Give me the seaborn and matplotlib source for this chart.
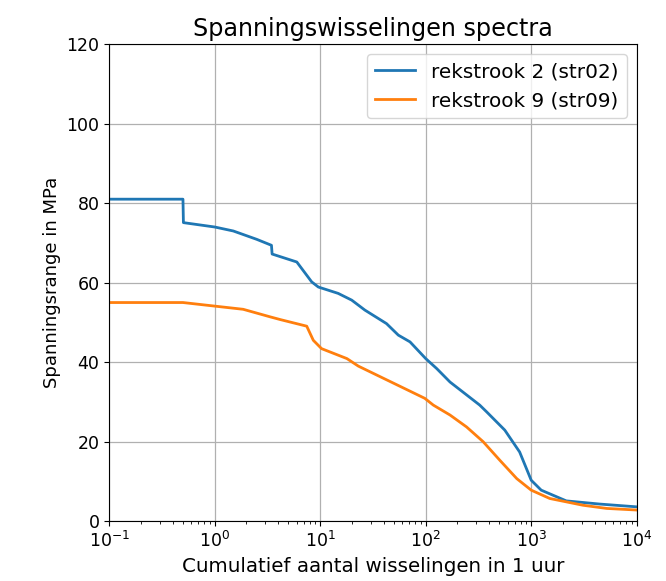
import numpy as np
import pandas as pd
import matplotlib
matplotlib.use("Agg")
import matplotlib.pyplot as plt
import seaborn as sns

# cumulative cycles (per hour) and stress range in MPa
str02_n = [0.1, 0.5, 0.505, 1.0, 1.5, 2.5, 3.45, 3.5, 6.0, 8.3, 9.6, 14.8, 19.9, 26.5,
           42.5, 55, 71, 100, 127, 170, 325, 378, 562, 777, 1000, 1244, 2150, 4460, 10000]
str02_s = [81.0, 81.0, 75.1, 74.0, 73.0, 70.9, 69.4, 67.2, 65.2, 60.2, 58.9, 57.3, 55.6, 53.1,
           49.7, 46.8, 45.1, 40.9, 38.4, 35.0, 29.2, 27.5, 22.9, 17.4, 10.3, 7.8, 5.1, 4.3, 3.6]

str09_n = [0.1, 0.5, 1.0, 1.86, 3.35, 4.2, 7.45, 8.6, 10.3, 17.9, 23, 98, 118, 170, 244,
           350, 505, 730, 1000, 1500, 3100, 5200, 10000]
str09_s = [55.0, 55.0, 54.1, 53.3, 51.4, 50.7, 49.05, 45.5, 43.4, 40.9, 39.0, 30.9, 29.2, 26.7, 23.7,
           20.0, 15.3, 10.7, 7.8, 5.7, 4.0, 3.2, 2.8]

df = pd.concat([
    pd.DataFrame({"n": str02_n, "s": str02_s, "reeks": "rekstrook 2 (str02)"}),
    pd.DataFrame({"n": str09_n, "s": str09_s, "reeks": "rekstrook 9 (str09)"}),
])

fig = plt.figure(figsize=(6.66, 5.81), dpi=100)
ax = fig.add_axes([0.164, 0.103, 0.792, 0.821])

sns.lineplot(data=df, x="n", y="s", hue="reeks", sort=False, estimator=None,
             palette=["#1f77b4", "#ff7f0e"], linewidth=2, ax=ax)

ax.set_xscale("log")
ax.set_xlim(0.1, 1e4)
ax.set_ylim(0, 120)
ax.set_yticks(range(0, 121, 20))
ax.grid(True, which="major", color="#b0b0b0", linewidth=0.9)
ax.tick_params(labelsize=12.5)
ax.set_title("Spanningswisselingen spectra", fontsize=17.2)
ax.set_xlabel("Cumulatief aantal wisselingen in 1 uur", fontsize=14.3)
ax.set_ylabel("Spanningsrange in MPa", fontsize=13)
ax.legend(title=None, loc="upper right", fontsize=14.4)

fig.savefig("out.png", dpi=100)
